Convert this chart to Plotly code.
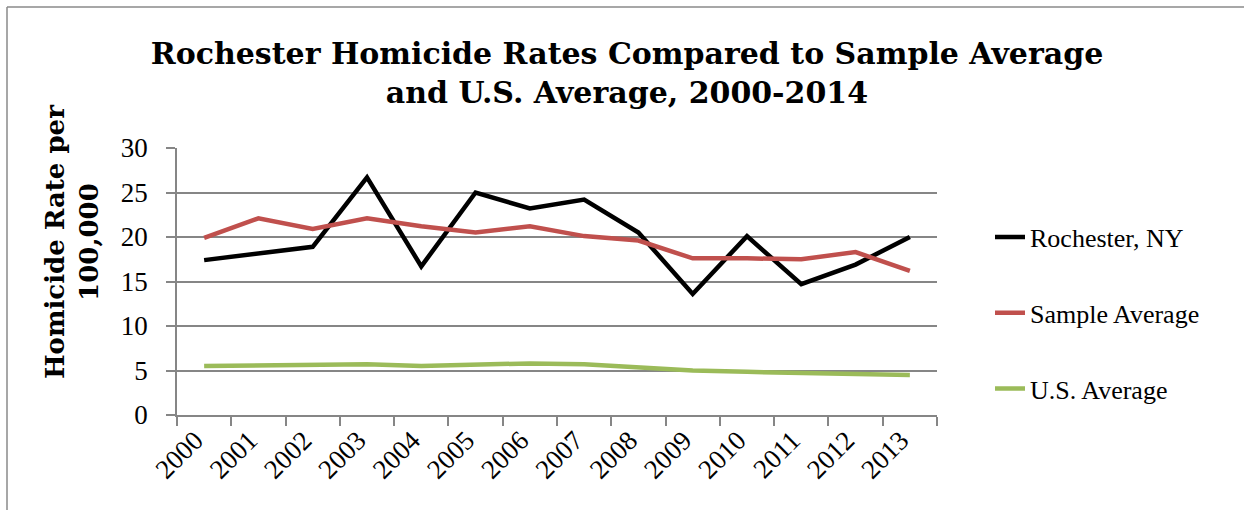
import plotly.graph_objects as go

years = ["2000", "2001", "2002", "2003", "2004", "2005", "2006",
         "2007", "2008", "2009", "2010", "2011", "2012", "2013"]
rochester = [17.4, 18.2, 18.9, 26.7, 16.7, 25.0, 23.2, 24.2, 20.5, 13.6, 20.1, 14.7, 16.9, 20.0]
sample_avg = [19.9, 22.1, 20.9, 22.1, 21.2, 20.5, 21.2, 20.1, 19.6, 17.6, 17.6, 17.5, 18.3, 16.2]
us_avg = [5.5, 5.6, 5.6, 5.7, 5.5, 5.6, 5.8, 5.7, 5.4, 5.0, 4.85, 4.75, 4.7, 4.5]

series_names = ["Rochester, NY", "Sample Average", "U.S. Average"]
series_colors = ["#000000", "#C0504D", "#9BBB59"]

W, H = 1244, 510
L, R, T, B = 177, 937, 148, 415  # plot area in pixels

def px_x(px):
    return (px - L) / (R - L)

def px_y(py):
    return (B - py) / (B - T)

fig = go.Figure()
for name, vals, col in zip(series_names, [rochester, sample_avg, us_avg], series_colors):
    fig.add_trace(go.Scatter(
        x=years, y=vals, mode="lines", name=name, legendgroup=name,
        line=dict(color=col, width=4.5),
        hoverinfo="skip",
    ))

serif = "Liberation Serif"
bold_serif = "DejaVu Serif"

fig.update_layout(
    width=W, height=H,
    margin=dict(l=L, r=W - R, t=T, b=H - B, autoexpand=False),
    paper_bgcolor="white", plot_bgcolor="white",
    title=dict(
        text="<b>Rochester Homicide Rates Compared to Sample Average<br>and U.S. Average, 2000-2014</b>",
        font=dict(family=bold_serif, size=30, color="black"),
        x=0.504, xanchor="center", y=1 - 64 / H, yanchor="middle",
    ),
    showlegend=True,
    legend=dict(
        x=px_x(990), xanchor="left", y=px_y(313), yanchor="middle",
        font=dict(family=serif, size=26, color="black"),
        tracegroupgap=39, bgcolor="rgba(0,0,0,0)",
    ),
    xaxis=dict(
        type="category", tickson="boundaries", ticks="outside", ticklen=9,
        range=[-0.5, len(years) - 0.5],
        tickcolor="#868686", tickwidth=1.5,
        showline=True, linecolor="#868686", linewidth=1.5,
        showgrid=False, tickangle=-45,
        ticklabelshift=-9, ticklabelstandoff=-3,
        tickfont=dict(family=serif, size=27, color="black"),
        fixedrange=True,
    ),
    yaxis=dict(
        range=[0, 30], dtick=5, tick0=0, ticks="outside", ticklen=9,
        tickcolor="#868686", tickwidth=1.5,
        showline=True, linecolor="#868686", linewidth=1.5,
        showgrid=True, gridcolor="#868686", gridwidth=1.5,
        zeroline=False, ticklabelstandoff=13,
        tickfont=dict(family=serif, size=27, color="black"),
        fixedrange=True,
    ),
    annotations=[dict(
        text="<b>Homicide Rate per<br>100,000</b>",
        textangle=-90, xref="paper", yref="paper",
        x=px_x(72), y=px_y(242), xanchor="center", yanchor="middle",
        showarrow=False,
        font=dict(family=bold_serif, size=26, color="black"),
    )],
    shapes=[
        dict(type="line", xref="paper", yref="paper",
             x0=px_x(7), y0=px_y(7), x1=px_x(W + 5), y1=px_y(7),
             line=dict(color="#8a8a8a", width=1.5)),
        dict(type="line", xref="paper", yref="paper",
             x0=px_x(7), y0=px_y(7), x1=px_x(7), y1=px_y(H + 5),
             line=dict(color="#8a8a8a", width=1.5)),
    ],
)

fig.write_html("out.html", config={"displayModeBar": False})
